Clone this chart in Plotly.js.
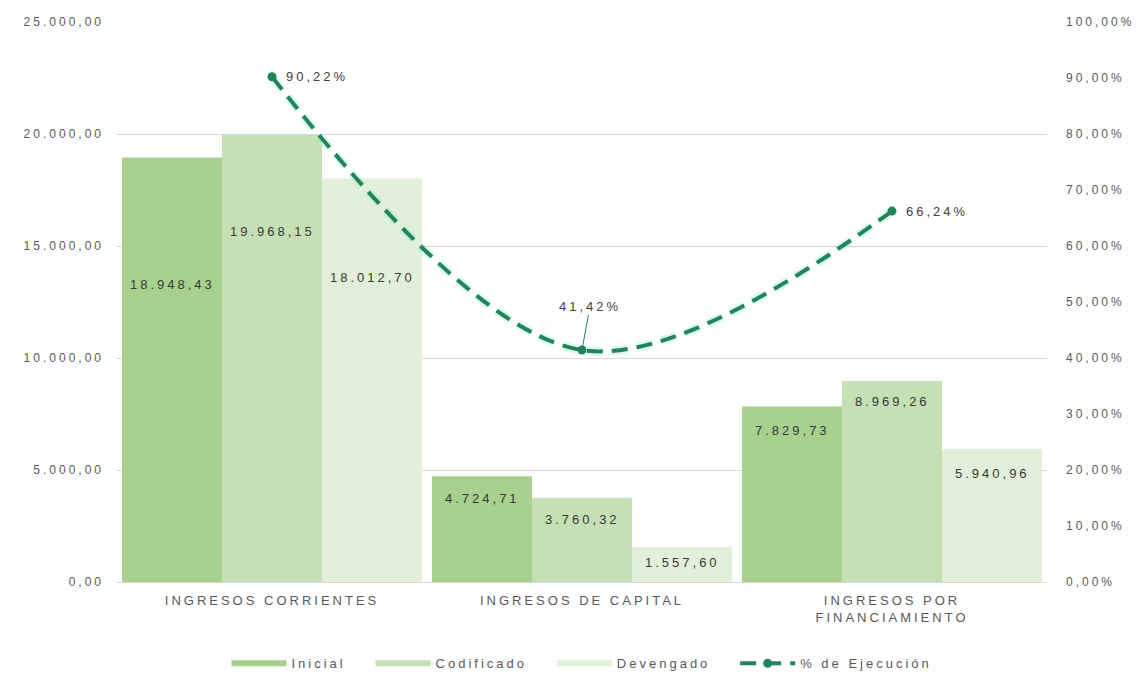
<!DOCTYPE html>
<html>
<head>
<meta charset="utf-8">
<script src="https://cdn.plot.ly/plotly-3.0.1.min.js"></script>
<style>
html,body{margin:0;padding:0;background:#fff;}
#chart{width:1148px;height:681px;}
svg text{letter-spacing:3px;}
</style>
</head>
<body>
<div id="chart"></div>
<script>
// ---- data ----
const categories = ["INGRESOS CORRIENTES", "INGRESOS DE CAPITAL", "INGRESOS POR<br>FINANCIAMIENTO"];
const inicial = [18948.43, 4724.71, 7829.73];
const codificado = [19968.15, 3760.32, 8969.26];
const devengado = [18012.70, 1557.60, 5940.96];
const ejecucion = [0.9022, 0.4142, 0.6624];
const seriesNames = ["Inicial", "Codificado", "Devengado", "% de Ejecución"];

// ---- styles ----
const barColors = ["#a9d18e", "#c5e0b4", "#e2f0d9"];
const lineColor = "#22845a";
const textColor = "#595959";
const fontFam = "Liberation Sans, Arial, sans-serif";
const legendPad = "\u00a0\u00a0\u00a0"; // extra spacing between legend entries
// label vertical offsets (px) below bar tops, per series per category
const labelShift = [[-127, -22, -24], [-97, -22, -20], [-99, -15, -25]];
const barShiftPx = [-100, 0, 100];

const barSeries = [inicial, codificado, devengado];
const traces = barSeries.map((vals, i) => ({
  type: "bar",
  name: seriesNames[i],
  x: categories,
  y: vals,
  marker: {color: barColors[i]},
  showlegend: false,
  hoverinfo: "skip"
}));
// legend entries drawn as thick lines (like the reference)
barSeries.forEach((vals, i) => {
  traces.push({
    type: "scatter", mode: "lines", name: seriesNames[i] + legendPad,
    x: [null], y: [null],
    line: {color: barColors[i], width: 6}
  });
});
// soft halo under the dashed line
traces.push({
  type: "scatter", mode: "lines",
  x: categories, y: ejecucion, yaxis: "y2",
  line: {color: "rgba(90,235,190,0.22)", width: 9, dash: "16px,9px", shape: "spline", smoothing: 1},
  showlegend: false, hoverinfo: "skip"
});
traces.push({
  type: "scatter",
  mode: "lines+markers",
  name: seriesNames[3],
  x: categories,
  y: ejecucion,
  yaxis: "y2",
  line: {color: lineColor, width: 4, dash: "16px,9px", shape: "spline", smoothing: 1},
  marker: {color: lineColor, size: 9}
});

function fmtNum(v) {
  return v.toFixed(2).replace(".", "#").replace(/\B(?=(\d{3})+(?!\d))/g, ".").replace("#", ",");
}
function fmtPct(v) {
  return (v * 100).toFixed(2).replace(".", ",") + "%";
}

const annotations = [];
barSeries.forEach((vals, i) => {
  vals.forEach((v, j) => {
    annotations.push({
      x: categories[j], y: v, xref: "x", yref: "y",
      text: fmtNum(v), showarrow: false,
      xshift: barShiftPx[i], yshift: labelShift[i][j],
      font: {size: 13, color: "#383838", family: fontFam}
    });
  });
});
ejecucion.forEach((v, j) => {
  if (j === 1) {
    annotations.push({
      x: categories[j], y: v, xref: "x", yref: "y2",
      text: fmtPct(v), showarrow: true, arrowhead: 0, arrowwidth: 1, arrowcolor: lineColor,
      ax: 8, ay: -44, standoff: 2,
      font: {size: 13, color: "#404040", family: fontFam}
    });
  } else {
    annotations.push({
      x: categories[j], y: v, xref: "x", yref: "y2",
      text: fmtPct(v), showarrow: false, xanchor: "left", xshift: 12,
      font: {size: 13, color: "#404040", family: fontFam}
    });
  }
});

const layout = {
  width: 1148, height: 681,
  margin: {l: 117, r: 101, t: 22, b: 99},
  paper_bgcolor: "#ffffff", plot_bgcolor: "#ffffff",
  separators: ",.",
  font: {family: fontFam, color: textColor, size: 13},
  barmode: "group",
  bargap: 0.032, bargroupgap: 0,
  showlegend: true,
  legend: {orientation: "h", x: 0.5, xanchor: "center", yref: "container", y: 0.026, yanchor: "middle",
           font: {size: 13, color: textColor}, traceorder: "normal", itemwidth: 55},
  xaxis: {type: "category", showgrid: false, showline: true, linecolor: "#d9d9d9",
          ticks: "", ticklabelstandoff: 6, tickfont: {size: 13, color: textColor}, automargin: false},
  yaxis: {range: [0, 25000], dtick: 5000, tickformat: ",.2f", gridcolor: "#d9d9d9",
          zeroline: false, showline: false, ticks: "", ticklabelstandoff: 12, automargin: false,
          tickfont: {size: 12, color: textColor}},
  yaxis2: {overlaying: "y", side: "right", range: [0, 1], dtick: 0.1, tickformat: ".2%",
           showgrid: false, zeroline: false, showline: false, ticks: "", ticklabelstandoff: 18,
           automargin: false, tickfont: {size: 12, color: textColor}},
  annotations: annotations
};

Plotly.newPlot("chart", traces, layout, {displayModeBar: false, staticPlot: true});
</script>
</body>
</html>
